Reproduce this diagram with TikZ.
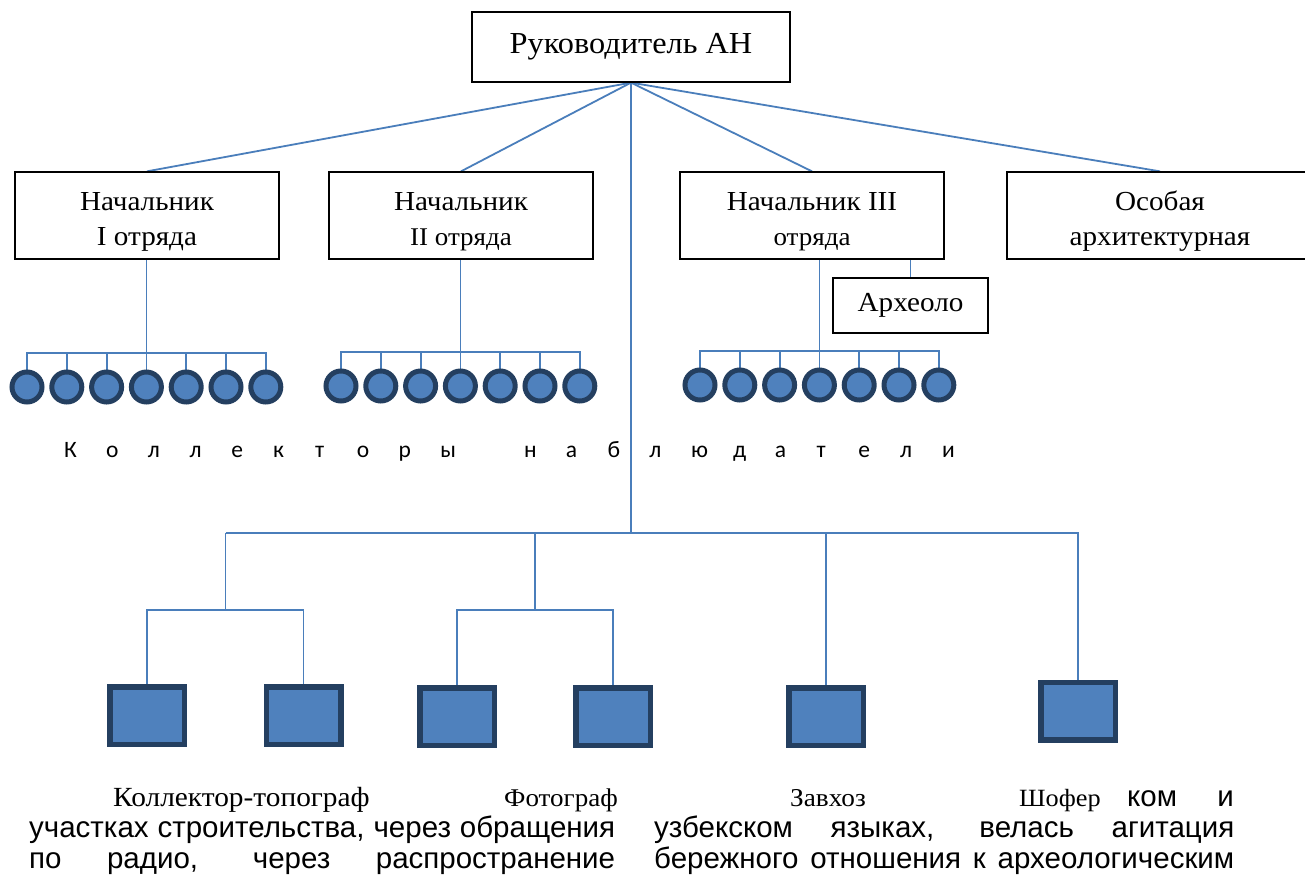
\documentclass[tikz,border=0pt]{standalone}
\usepackage{fontspec}
\setmainfont{Liberation Serif}[FakeStretch=1.06]
\newfontfamily\bodyfont{Liberation Sans}
\newfontfamily\spacedfont{Carlito}
\usetikzlibrary{positioning, backgrounds}
\definecolor{linkblue}{HTML}{4A7EBB}
\definecolor{dotfill}{HTML}{4F81BD}
\definecolor{dotedge}{HTML}{243F60}
\newcommand{\secondline}{\fontsize{25.5}{30}\selectfont}
\newcommand{\headstrut}{\rule{0pt}{30pt}}

\begin{document}
\begin{tikzpicture}[x=1pt, y=-1pt,
    every node/.style={inner sep=0pt},
    chief/.style={rectangle, draw, fill=white, line width=1.3pt,
                  minimum width=318pt, minimum height=70pt, align=center,
                  font=\fontsize{30.5}{36}\selectfont},
    head/.style={rectangle, draw, fill=white, line width=1.3pt,
                 minimum width=264pt, minimum height=87pt, align=center,
                 font=\fontsize{27.5}{35}\selectfont},
    member/.style={circle, draw=dotedge, fill=dotfill, line width=5pt, minimum size=30pt},
    post/.style={rectangle, draw=dotedge, fill=dotfill, line width=5.5pt,
                 minimum width=74.5pt, minimum height=57.5pt},
    link/.style={draw=linkblue, line width=1.8pt},
    role/.style={anchor=base west, font=\fontsize{27.7}{32}\selectfont},
    body/.style={anchor=base west, font=\bodyfont\fontsize{29.5}{33}\selectfont},
    spaced/.style={anchor=base west, font=\spacedfont\fontsize{23.5}{27}\selectfont}
]
    \useasboundingbox (0,0) rectangle (1305,877);

    % boxes
    \node[chief]  (ruk)  at (631,47)      {Руководитель АН};
    \node[head]   (n1)   at (147,215.5)   {\headstrut Начальник\\I отряда};
    \node[head]   (n2)   at (461,215.5)   {\headstrut Начальник\\{\secondline II отряда}};
    \node[head]   (n3)   at (812,215.5)   {\headstrut Начальник III\\{\secondline отряда}};
    \node[head, minimum width=306pt] (n4) at (1160,215.5) {\headstrut Особая\\архитектурная};
    \node[rectangle, draw, fill=white, line width=1.3pt, minimum width=155pt,
          minimum height=55pt, font=\fontsize{27.5}{32}\selectfont] (arch) at (910.5,305.5) {Археоло};

    % collectors
    \foreach \i in {1,...,7} {
        \node[member] (c1-\i) at ({27+39.8*(\i-1)},387)  {};
        \node[member] (c2-\i) at ({341+39.8*(\i-1)},386) {};
        \node[member] (c3-\i) at ({700+39.8*(\i-1)},385) {};
    }

    % staff
    \node[post] (p1) at (147,715.5)   {};
    \node[post] (p2) at (303.5,715.5) {};
    \node[post] (p3) at (457,716.5)   {};
    \node[post] (p4) at (613,716.5)   {};
    \node[post] (p5) at (826,716.5)   {};
    \node[post] (p6) at (1078,711)    {};

    \coordinate (hub) at (631,533);
    \coordinate (s1)  at (225.5,610);
    \coordinate (s2)  at (535,610);

    \begin{scope}[on background layer]
        \fill[white] (0,0) rectangle (1305,877);
        \draw[link] (ruk.south) -- (n1.north);
        \draw[link] (ruk.south) -- (n2.north);
        \draw[link] (ruk.south) -- (n3.north);
        \draw[link] (ruk.south) -- (n4.north);
        \draw[link] (ruk.south) -- (hub);
        \draw[link] (arch.north) -- (arch.north |- n3.south);
        \foreach \g in {1,2,3} {
            \draw[link] (c\g-1.center) -- ++(0,-34) -| (c\g-7.center);
            \foreach \i in {2,...,6}
                \draw[link] (c\g-\i.center) -- ++(0,-34);
            \draw[link] (c\g-4 |- n\g.south) -- (c\g-4.center);
        }
        \draw[link] (s1 |- hub) -- (p6.north |- hub) -- (p6.north);
        \draw[link] (s1 |- hub) -- (s1);
        \draw[link] (s2 |- hub) -- (s2);
        \draw[link] (p5.north |- hub) -- (p5.north);
        \draw[link] (p1.north) |- (s1) -| (p2.north);
        \draw[link] (p3.north) |- (s2) -| (p4.north);
    \end{scope}

    % spaced caption
    \foreach \ch [count=\k from 0] in {К,о,л,л,е,к,т,о,р,ы}
        \node[spaced] (w1-\k) at ({64+41.8*\k},457) {\ch};
    \foreach \ch [count=\k from 0] in {н,а,б,л,ю,д,а,т,е,л,и}
        \node[spaced] (w2-\k) at ({64+41.8*(\k+11)},457) {\ch};

    % labels
    \node[role] (r1) at (113,806) {Коллектор-топограф};
    \node[role, font=\fontsize{25.5}{30}\selectfont] (r2) at (504,806) {Фотограф};
    \node[role, font=\fontsize{25.7}{30}\selectfont] (r3) at (790,806) {Завхоз};
    \node[role, font=\fontsize{24.8}{29}\selectfont] (r4) at (1019,806) {Шофер};

    % text of the page
    \node[body] (t1a) at (1127,806) {ком};
    \node[body, anchor=base east] (t1b) at (1234,806) {и};
    \node[body] (t2a) at (29,837)  {\makebox[586pt][s]{участках строительства, через обращения}};
    \node[body] (t2b) at (654,837) {\makebox[580pt][s]{узбекском языках, велась агитация}};
    \node[body] (t3a) at (29,868)  {\makebox[586pt][s]{по радио, через распространение}};
    \node[body] (t3b) at (654,868) {\makebox[580pt][s]{бережного отношения к археологическим}};
\end{tikzpicture}
\end{document}
